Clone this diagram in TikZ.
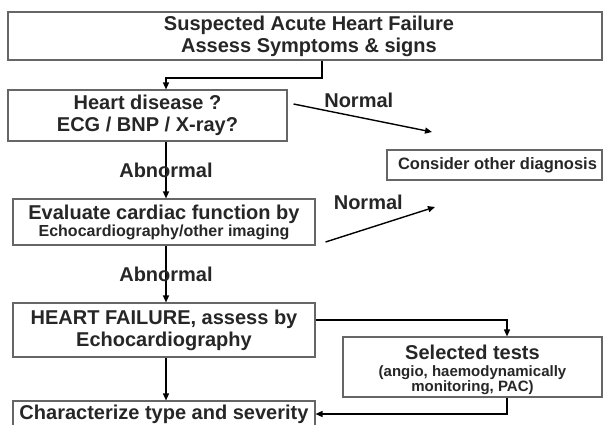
\documentclass[tikz,border=0pt]{standalone}
\usepackage{fontspec}
\setmainfont{Liberation Sans}
\usetikzlibrary{arrows.meta,positioning}

\begin{document}
\begin{tikzpicture}[x=1pt,y=-1pt,
  chartbox/.style={draw=black!60,line width=1.1pt,rectangle,inner sep=0pt,align=center,
    font=\bfseries\fontsize{20}{22}\selectfont,text=black!85},
  arr/.style={black,line width=1.4pt,-{Triangle[length=7pt,width=6pt]}},
  lbl/.style={inner sep=0pt,font=\bfseries\fontsize{20}{22}\selectfont,text=black!85}]
\useasboundingbox (0,0) rectangle (603,425);
\node[chartbox,minimum width=594pt,minimum height=48pt] (susp) at (305,36) {\hspace*{8pt}Suspected Acute Heart Failure\\\hspace*{8pt}Assess Symptoms \& signs};
\node[chartbox,minimum width=279pt,minimum height=51pt] (hd) at (147.5,115.5) {Heart disease ?\\ECG / BNP / X-ray?};
\node[chartbox,minimum width=215pt,minimum height=30pt,font=\bfseries\fontsize{16.5}{18}\selectfont] (other) at (494.5,165) {\hspace*{6pt}Consider other diagnosis};
\node[chartbox,minimum width=302pt,minimum height=46pt] (ev) at (164,222) {Evaluate cardiac function by\\[-5pt]\fontsize{16}{18}\selectfont Echocardiography/other imaging};
\node[chartbox,minimum width=302pt,minimum height=54pt] (hf) at (164,330) {HEART FAILURE, assess by\\Echocardiography};
\node[chartbox,minimum width=259pt,minimum height=60pt] (tests) at (472.5,367) {\rule{0pt}{21pt}Selected tests\\[-5pt]\fontsize{15}{17}\selectfont (angio, haemodynamically\\[-7pt]\fontsize{15}{17}\selectfont monitoring, PAC)};
\node[chartbox,minimum width=302pt,minimum height=26pt] (ch) at (164,414) {Characterize type and severity};
\coordinate (spine) at (166,0);
\coordinate (drop) at (322,78);
\coordinate (tjoin) at (507,320);
\coordinate (n1) at (432,132);
\coordinate (n2) at (435,207);
\draw[arr] (susp.south -| drop) -- (drop) -| (hd.north -| spine);
\draw[arr] (hd.south -| spine) -- (ev.north -| spine) node[lbl,midway] {Abnormal};
\draw[arr] (ev.south -| spine) -- (hf.north -| spine) node[lbl,midway] {Abnormal};
\draw[arr] (hf.south -| spine) -- (ch.north -| spine);
\draw[arr] ([shift={(6,-11.5)}]hd.east) -- (n1) node[lbl,midway,above=10pt,xshift=-4pt] {Normal};
\draw[arr] ([shift={(10,20)}]ev.east) -- (n2) node[lbl,midway,above=14pt,xshift=-12pt] {Normal};
\draw[arr] (hf.east |- tjoin) -| (tests.north -| tjoin);
\draw[arr] (tests.south -| tjoin) |- (ch.east);
\end{tikzpicture}
\end{document}
